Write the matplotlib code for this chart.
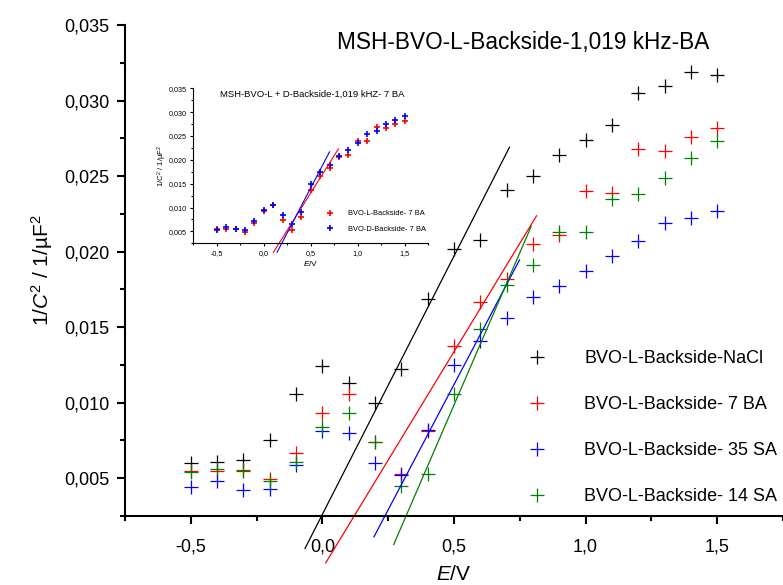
import matplotlib
matplotlib.use('Agg')
import matplotlib.pyplot as plt
from matplotlib.ticker import MultipleLocator, FuncFormatter
import numpy as np

plt.rcParams['font.family'] = ['Liberation Sans', 'DejaVu Sans']
plt.rcParams['mathtext.fontset'] = 'custom'
plt.rcParams['mathtext.rm'] = 'Liberation Sans'
plt.rcParams['mathtext.it'] = 'Liberation Sans:italic'

# potential values (V)
E = [-0.5, -0.4, -0.3, -0.2, -0.1, 0.0, 0.1, 0.2, 0.3, 0.4, 0.5,
     0.6, 0.7, 0.8, 0.9, 1.0, 1.1, 1.2, 1.3, 1.4, 1.5]

# main plot: 1/C^2 series
nacl = [0.0060, 0.0061, 0.0062, 0.0075, 0.0106, 0.0124, 0.0113, 0.0100, 0.0122, 0.0169, 0.0202,
        0.0208, 0.0241, 0.0250, 0.0264, 0.0274, 0.0284, 0.0305, 0.0310, 0.0319, 0.0317]
ba7 = [0.00545, 0.0055, 0.00557, 0.00495, 0.00668, 0.00935, 0.01057, 0.00741, 0.0053, 0.0081, 0.01375,
       0.0167, 0.0182, 0.0205, 0.0211, 0.0240, 0.0239, 0.0268, 0.0267, 0.0276, 0.0282]
sa35 = [0.00439, 0.00481, 0.00419, 0.00428, 0.0059, 0.00812, 0.00801, 0.00601, 0.0052, 0.0082, 0.0125,
        0.0141, 0.0156, 0.0170, 0.0177, 0.0187, 0.0197, 0.0207, 0.0219, 0.0222, 0.0227]
sa14 = [0.00539, 0.00563, 0.00545, 0.00483, 0.00605, 0.00839, 0.00935, 0.00741, 0.0045, 0.0053, 0.0106,
        0.0149, 0.0178, 0.0191, 0.0213, 0.0213, 0.0235, 0.0238, 0.0249, 0.0262, 0.0273]

labels = ['BVO-L-Backside-NaCl', 'BVO-L-Backside- 7 BA', 'BVO-L-Backside- 35 SA', 'BVO-L-Backside- 14 SA']
colors = ['black', 'red', 'blue', 'green']

# linear fits (slope, x-intercept, x range)
fit_slope = [0.0342, 0.02869, 0.03315, 0.04033]
fit_x0 = [-0.0762, 0.0338, 0.1622, 0.2559]
fit_xmin = [-0.066, 0.0125, 0.196, 0.271]
fit_xmax = [0.711, 0.8136, 0.749, 0.7935]

# inset: L vs D backside, 7 BA
inset_L = ba7
inset_D = [0.00535, 0.00598, 0.00556, 0.00528, 0.00723, 0.00953, 0.01058, 0.00835, 0.00653, 0.00898, 0.01483,
           0.01748, 0.01895, 0.0209, 0.02209, 0.02348, 0.02543, 0.02613, 0.02753, 0.02836, 0.0292]
inset_labels = ['BVO-L-Backside- 7 BA', 'BVO-D-Backside- 7 BA']
inset_colors = ['red', 'blue']
inset_slope = [0.03134, 0.03774]
inset_x0 = [0.0825, 0.1248]
inset_xmin = [0.102, 0.141]
inset_xmax = [0.794, 0.699]

comma = FuncFormatter(lambda v, p: ('%.1f' % v).replace('.', ','))
comma3 = FuncFormatter(lambda v, p: ('%.3f' % v).replace('.', ','))

fig = plt.figure(figsize=(7.83, 5.85), dpi=100)
ax = fig.add_axes([0.1596, 0.118, 0.8404, 0.839])

series = [nacl, ba7, sa35, sa14]
for ys, c, lab in zip(series, colors, labels):
    ax.plot(E, ys, linestyle='none', marker='+', markersize=10, markeredgewidth=0.9,
            color=c, label=lab, clip_on=False)
for s, x0, a, b, c in zip(fit_slope, fit_x0, fit_xmin, fit_xmax, colors):
    xx = np.array([a, b])
    ax.plot(xx, s * (xx - x0), color=c, lw=0.9, clip_on=False)

ax.set_xlim(-0.75, 1.75)
ax.set_ylim(0.0025, 0.035)
ax.spines['top'].set_visible(False)
ax.spines['right'].set_visible(False)
for sp in ['left', 'bottom']:
    ax.spines[sp].set_linewidth(1.5)
ax.xaxis.set_major_locator(MultipleLocator(0.5))
ax.xaxis.set_minor_locator(MultipleLocator(0.25))
ax.yaxis.set_major_locator(MultipleLocator(0.005))
ax.yaxis.set_minor_locator(MultipleLocator(0.0025))
ax.xaxis.set_major_formatter(comma)
ax.yaxis.set_major_formatter(comma3)
ax.tick_params(which='major', direction='out', length=6, width=1.5, labelsize=13, pad=5)
ax.tick_params(axis='x', which='major', pad=10)
ax.tick_params(which='minor', direction='out', length=3.5, width=1.5)
ax.set_xlabel('$E$/V', fontsize=15, labelpad=7)
ax.set_ylabel('1/$C^2$ / 1/µF$^2$', fontsize=15, labelpad=7)
ax.text(0.605, 0.965, 'MSH-BVO-L-Backside-1,019 kHz-BA', transform=ax.transAxes,
        ha='center', va='center', fontsize=16.3)
ax.legend(loc='upper left', bbox_to_anchor=(0.599, 0.338), frameon=False, fontsize=13,
          numpoints=1, handlelength=2.0, handletextpad=1.6, labelspacing=1.61,
          borderpad=0, borderaxespad=0)

# inset
ins = fig.add_axes([0.2469, 0.5841, 0.3001, 0.2650])
ins.patch.set_alpha(0)
for ys, c, lab in zip([inset_L, inset_D], inset_colors, inset_labels):
    ins.plot(E, ys, linestyle='none', marker='+', markersize=5, markeredgewidth=1.2,
             color=c, label=lab)
for s, x0, a, b, c in zip(inset_slope, inset_x0, inset_xmin, inset_xmax, inset_colors):
    xx = np.array([a, b])
    ins.plot(xx, s * (xx - x0), color=c, lw=0.8, clip_on=False)
ins.set_xlim(-0.75, 1.75)
ins.set_ylim(0.0025, 0.035)
ins.spines['top'].set_visible(False)
ins.spines['right'].set_visible(False)
for sp in ['left', 'bottom']:
    ins.spines[sp].set_linewidth(0.8)
ins.xaxis.set_major_locator(MultipleLocator(0.5))
ins.xaxis.set_minor_locator(MultipleLocator(0.25))
ins.yaxis.set_major_locator(MultipleLocator(0.005))
ins.yaxis.set_minor_locator(MultipleLocator(0.0025))
ins.xaxis.set_major_formatter(comma)
ins.yaxis.set_major_formatter(comma3)
ins.tick_params(which='major', direction='out', length=2.5, width=0.8, labelsize=5.2, pad=2)
ins.tick_params(which='minor', direction='out', length=1.5, width=0.8)
ins.set_xlabel('$E$/V', fontsize=6, labelpad=2)
ins.set_ylabel('1/$C^2$ / 1/µF$^2$', fontsize=5.5, labelpad=0)
ins.text(0.504, 0.96, 'MSH-BVO-L + D-Backside-1,019 kHZ- 7 BA', transform=ins.transAxes,
         ha='center', va='center', fontsize=6.8)
ins.legend(loc='upper left', bbox_to_anchor=(0.55, 0.215), frameon=False, fontsize=5.4,
           numpoints=1, handlelength=2.0, handletextpad=1.4, labelspacing=1.13,
           borderpad=0, borderaxespad=0)

fig.savefig('out.png', dpi=100)
